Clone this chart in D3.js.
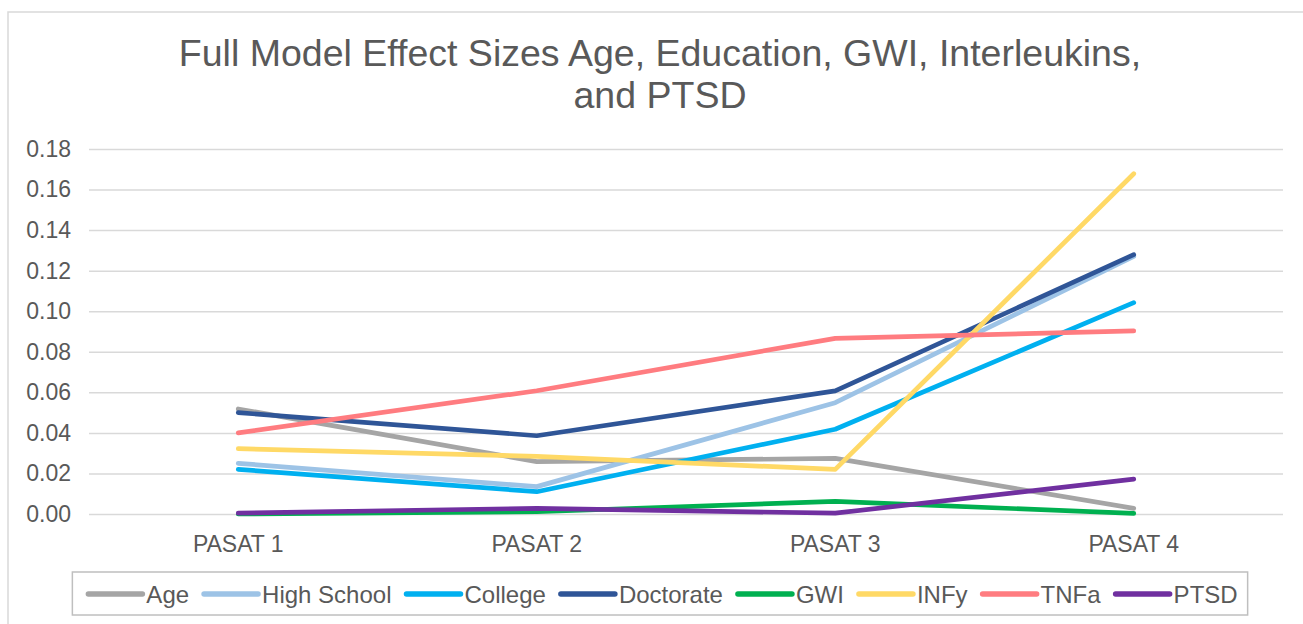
<!DOCTYPE html>
<html lang="en">
<head>
  <meta charset="utf-8">
  <title>Full Model Effect Sizes</title>
  <script src="https://cdn.jsdelivr.net/npm/d3@7"></script>
  <style>
    body { margin: 0; background: #fff; }
    svg text { font-family: "Liberation Sans", Arial, sans-serif; fill: #595959; }
  </style>
</head>
<body>
<svg width="1303" height="624"></svg>
<script>
// data
const categories = ["PASAT 1", "PASAT 2", "PASAT 3", "PASAT 4"];
const seriesNames = ["Age", "High School", "College", "Doctorate", "GWI", "INFy", "TNFa", "PTSD"];
const seriesColors = ["#a5a5a5", "#9dc3e6", "#00b0f0", "#2f5597", "#00b050", "#ffd966", "#ff7c80", "#7030a0"];
const age        = [0.0518, 0.0258, 0.0274, 0.0028];
const highSchool = [0.0250, 0.0135, 0.0549, 0.1270];
const college    = [0.0220, 0.0110, 0.0418, 0.1042];
const doctorate  = [0.0500, 0.0386, 0.0607, 0.1279];
const gwi        = [0.0000, 0.0011, 0.0062, 0.0003];
const infy       = [0.0322, 0.0284, 0.0220, 0.1678];
const tnfa       = [0.0400, 0.0608, 0.0866, 0.0903];
const ptsd       = [0.0004, 0.0028, 0.0004, 0.0172];
const yTicks = [0, 0.02, 0.04, 0.06, 0.08, 0.10, 0.12, 0.14, 0.16, 0.18];

const allSeries = [age, highSchool, college, doctorate, gwi, infy, tnfa, ptsd];

const svg = d3.select("svg");

// outer chart border
svg.append("rect")
  .attr("x", 8).attr("y", 12)
  .attr("width", 1400).attr("height", 700)
  .attr("fill", "none").attr("stroke", "#d9d9d9").attr("stroke-width", 1.5);

const plot = {left: 89, right: 1283, top: 149, bottom: 514};

const x = d3.scaleBand().domain(categories).range([plot.left, plot.right]);
const y = d3.scaleLinear().domain([0, 0.18]).range([plot.bottom, plot.top]);

// title
const title = svg.append("text")
  .attr("text-anchor", "middle")
  .attr("font-size", 37.5);
title.append("tspan").attr("x", 660).attr("y", 66)
  .text("Full Model Effect Sizes Age, Education, GWI, Interleukins,");
title.append("tspan").attr("x", 660).attr("y", 108)
  .text("and PTSD");

// y axis with gridlines
const yAxis = svg.append("g")
  .attr("transform", "translate(" + plot.left + ",0)")
  .call(d3.axisLeft(y).tickValues(yTicks).tickFormat(d3.format(".2f"))
    .tickSize(-(plot.right - plot.left)).tickPadding(18));
yAxis.select(".domain").remove();
yAxis.selectAll(".tick line").attr("stroke", "#d9d9d9").attr("stroke-width", 1.5);
yAxis.selectAll(".tick text").attr("font-size", 23).attr("fill", "#595959");

// x axis labels
const xAxis = svg.append("g")
  .attr("transform", "translate(0," + plot.bottom + ")")
  .call(d3.axisBottom(x).tickSize(0).tickPadding(22));
xAxis.select(".domain").remove();
xAxis.selectAll(".tick text").attr("font-size", 23).attr("fill", "#595959");

// lines
const line = d3.line()
  .x((d, i) => x(categories[i]) + x.bandwidth() / 2)
  .y(d => y(d));

svg.append("g").selectAll("path")
  .data(allSeries)
  .join("path")
  .attr("d", line)
  .attr("fill", "none")
  .attr("stroke", (d, i) => seriesColors[i])
  .attr("stroke-width", 4.7)
  .attr("stroke-linecap", "round")
  .attr("stroke-linejoin", "round");

// legend
const legend = svg.append("g");
const legendBox = legend.append("rect")
  .attr("fill", "none").attr("stroke", "#bfbfbf").attr("stroke-width", 1.5);
const items = legend.selectAll("g.item")
  .data(seriesNames)
  .join("g").attr("class", "item");
items.append("line")
  .attr("x1", 0).attr("x2", 54).attr("y1", 0).attr("y2", 0)
  .attr("stroke", (d, i) => seriesColors[i])
  .attr("stroke-width", 5.5)
  .attr("stroke-linecap", "round");
items.append("text")
  .attr("x", 58).attr("y", 8.5)
  .attr("font-size", 24)
  .text(d => d);

const widths = [];
items.each(function() {
  widths.push(58 + this.querySelector("text").getComputedTextLength());
});
const gap = 15;
const total = d3.sum(widths) + gap * (widths.length - 1);
const startX = 663 - total / 2;
let cx = startX;
items.attr("transform", (d, i) => {
  const t = "translate(" + cx + ",594)";
  cx += widths[i] + gap;
  return t;
});
legendBox.attr("x", startX - 16).attr("y", 572)
  .attr("width", total + 26).attr("height", 43);
</script>
</body>
</html>
